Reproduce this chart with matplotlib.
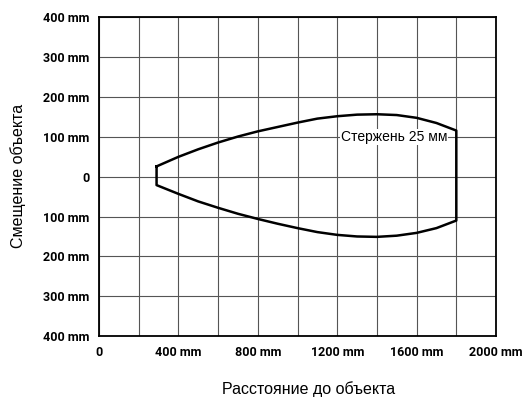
import numpy as np
import matplotlib.pyplot as plt

# upper and lower edge of the detection zone (mm)
x_upper = [290, 400, 500, 600, 700, 800, 900, 1000, 1100, 1200, 1300, 1400, 1500, 1600, 1700, 1800]
y_upper = [26, 50, 69, 86, 101, 114, 125, 136, 146, 152, 156, 157, 155, 148, 135, 116]
x_lower = [290, 400, 500, 600, 700, 800, 900, 1000, 1100, 1200, 1300, 1400, 1500, 1600, 1700, 1800]
y_lower = [-21, -43, -62, -78, -93, -106, -118, -129, -139, -146, -150, -151, -148, -141, -129, -110]

x_ticks = [0, 200, 400, 600, 800, 1000, 1200, 1400, 1600, 1800, 2000]
x_labels = ["0", "", "400 mm", "", "800 mm", "", "1200 mm", "", "1600 mm", "", "2000 mm"]
y_ticks = [-400, -300, -200, -100, 0, 100, 200, 300, 400]
y_labels = ["400 mm", "300 mm", "200 mm", "100 mm", "0", "100 mm", "200 mm", "300 mm", "400 mm"]

label_text = "Стержень 25 мм"
label_pos = (1485, 100)

plt.rcParams["font.family"] = ["Liberation Sans", "DejaVu Sans"]

fig = plt.figure(figsize=(5.22, 3.99), dpi=100)
ax = fig.add_axes([99 / 522, 1 - 336 / 399, 397 / 522, 318.5 / 399])

# closed outline: upper edge, right side, lower edge back, left side
xs = x_upper + x_lower[::-1] + [x_upper[0]]
ys = y_upper + y_lower[::-1] + [y_upper[0]]
ax.plot(xs, ys, color="black", lw=1.8, solid_joinstyle="round", zorder=3)

ax.text(label_pos[0], label_pos[1], label_text, ha="center", va="center",
        fontsize=10, zorder=4,
        bbox=dict(facecolor="white", edgecolor="none", pad=0.5))

ax.set_xlim(0, 2000)
ax.set_ylim(-400, 400)
ax.set_xticks(x_ticks)
ax.set_xticklabels(x_labels)
ax.set_yticks(y_ticks)
ax.set_yticklabels(y_labels)
for t in ax.get_xticklabels() + ax.get_yticklabels():
    t.set_family(["Roboto", "DejaVu Sans"])
    t.set_fontweight("bold")
    t.set_fontsize(9)
ax.tick_params(length=0, pad=7)
ax.grid(True, color="#555555", lw=0.8)
ax.set_axisbelow(True)
for s in ax.spines.values():
    s.set_linewidth(1.3)
    s.set_color("black")

fig.text(309 / 522, 1 - 389 / 399, "Расстояние до объекта", fontsize=11.5,
         ha="center", va="center")
fig.text(18 / 522, 1 - 176 / 399, "Смещение объекта", fontsize=11.5,
         ha="center", va="center", rotation=90)

fig.savefig("out.png", dpi=100)
